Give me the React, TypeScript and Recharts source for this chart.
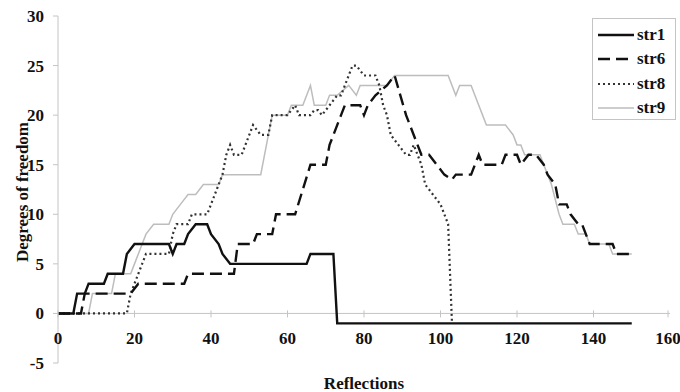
import { Line, LineChart, ReferenceLine, XAxis, YAxis } from 'recharts';

// [reflections, degrees of freedom] vertices
const str1Points: Array<[number, number]> = [
  [0, 0], [4, 0], [5, 2], [7, 2], [8, 3], [12, 3], [13, 4], [17, 4], [18, 6], [20, 7],
  [29, 7], [30, 6], [31, 7], [33, 7], [34, 8], [36, 9], [39, 9], [40, 8], [42, 7],
  [43, 6], [45, 5], [65, 5], [66, 6], [72, 6], [73, -1], [150, -1],
];

const str6Points: Array<[number, number]> = [
  [0, 0], [6, 0], [7, 2], [19, 2], [21, 3], [33, 3], [34, 4], [46, 4], [47, 7], [51, 7],
  [52, 8], [56, 8], [57, 10], [62, 10], [66, 15], [70, 15], [71, 17], [74, 20], [75, 21],
  [79, 21], [80, 20], [81, 21], [83, 22], [86, 23], [88, 24], [91, 20], [93, 18], [95, 16],
  [97, 16], [99, 15], [101, 14], [103, 13.5], [104, 14], [108, 14], [110, 16], [111, 15],
  [116, 15], [117, 16], [120, 16], [121, 15], [123, 16], [125, 16], [127, 15], [128, 14],
  [130, 13], [131, 11], [133, 11], [134, 10], [136, 9], [137, 9], [138, 8], [139, 7],
  [145, 7], [146, 6], [150, 6],
];

const str8Points: Array<[number, number]> = [
  [0, 0], [18, 0], [19, 2], [21, 4], [23, 6], [29, 6], [30, 8], [31, 9], [34, 9], [35, 10],
  [39, 10], [41, 12], [43, 14], [44, 16], [45, 17], [46, 16], [48, 16], [50, 18], [51, 19],
  [53, 18], [55, 18], [56, 20], [60, 20], [62, 21], [63, 20], [66, 20], [67, 20.5], [68, 20.5],
  [69, 20], [71, 21], [73, 22], [74, 22], [75, 23], [77, 25], [78, 25], [80, 24], [83, 24],
  [84, 23], [85, 21], [86, 20], [87, 18], [89, 17], [91, 16], [92, 16], [93, 17], [95, 15],
  [96, 13], [98, 12], [100, 11], [101, 10], [102, 9], [103, -1],
];

const str9Points: Array<[number, number]> = [
  [0, 0], [8, 0], [9, 2], [14, 2], [15, 4], [19, 4], [20, 5], [21, 6], [23, 8], [25, 9],
  [29, 9], [30, 10], [32, 11], [34, 12], [36, 12], [38, 13], [42, 13], [43, 14], [53, 14],
  [55, 18], [56, 20], [60, 20], [61, 21], [64, 21], [66, 23], [67, 21], [70, 21], [71, 22],
  [73, 22], [76, 23], [78, 22], [79, 23], [86, 23], [88, 24], [102, 24], [104, 22], [105, 23],
  [108, 23], [110, 21], [111, 20], [112, 19], [117, 19], [119, 18], [120, 17], [121, 17],
  [122, 16], [126, 16], [127, 15], [129, 13], [131, 10], [132, 9], [135, 9], [136, 8],
  [138, 8], [139, 7], [144, 7], [145, 6], [150, 6],
];

const xTicks = [0, 20, 40, 60, 80, 100, 120, 140, 160];
const yTicks = [-5, 0, 5, 10, 15, 20, 25, 30];

const toRows = (pts: Array<[number, number]>) => pts.map(([x, y]) => ({ x, y }));

const FONT = "'Liberation Serif', 'Times New Roman', serif";
const FONT_SIZE = 17;
const AXIS_GRAY = '#c4c4c4';

const W = 680;
const H = 392;
const X_AXIS_H = 29;
const MARGIN = { top: 16, right: 10, left: 0, bottom: 0 };
const Y_MIN = -5;
const Y_MAX = 30;
const PLOT_TOP = MARGIN.top;
const PLOT_H = H - MARGIN.top - MARGIN.bottom - X_AXIS_H;
const ZERO_Y = PLOT_TOP + ((Y_MAX - 0) / (Y_MAX - Y_MIN)) * PLOT_H;

const series = [
  { name: 'str1', pts: str1Points, stroke: '#111', width: 2.4, dash: undefined as string | undefined },
  { name: 'str6', pts: str6Points, stroke: '#111', width: 2.4, dash: '12 6' },
  { name: 'str8', pts: str8Points, stroke: '#333', width: 2.2, dash: '2 3' },
  { name: 'str9', pts: str9Points, stroke: '#bdbdbd', width: 1.5, dash: undefined },
];

function XTick(props: any) {
  const { x, payload } = props;
  return (
    <g>
      <line x1={x} x2={x} y1={ZERO_Y - 3} y2={ZERO_Y + 4} stroke={AXIS_GRAY} />
      <text x={x} y={ZERO_Y + 31} textAnchor="middle" fontFamily={FONT} fontWeight="bold" fontSize={FONT_SIZE} fill="#111">
        {payload.value}
      </text>
    </g>
  );
}

function LegendBox() {
  return (
    <div
      style={{
        position: 'absolute',
        left: 592,
        top: 18,
        width: 84,
        height: 102,
        border: `1px solid ${AXIS_GRAY}`,
        background: '#fff',
        boxSizing: 'border-box',
        paddingTop: 4,
      }}
    >
      {series.map((s) => (
        <div key={s.name} style={{ display: 'flex', alignItems: 'center', height: 24.3 }}>
          <svg width={40} height={10} style={{ marginLeft: 4 }}>
            <line x1={1} x2={37} y1={5} y2={5} stroke={s.stroke} strokeWidth={s.width} strokeDasharray={s.dash} />
          </svg>
          <span style={{ fontFamily: FONT, fontWeight: 'bold', fontSize: FONT_SIZE, color: '#111' }}>
            {s.name}
          </span>
        </div>
      ))}
    </div>
  );
}

export default function App() {
  return (
    <div style={{ position: 'absolute', left: 0, top: 0, width: W, height: H, background: '#fff' }}>
      <LineChart width={W} height={H} margin={MARGIN}>
        <XAxis
          dataKey="x"
          type="number"
          domain={[0, 160]}
          ticks={xTicks}
          axisLine={false}
          tickLine={false}
          height={X_AXIS_H}
          tick={<XTick />}
          allowDuplicatedCategory={false}
          label={{
            value: 'Reflections',
            content: () => (
              <text x={364} y={389} textAnchor="middle" fontFamily={FONT} fontWeight="bold" fontSize={FONT_SIZE} fill="#111">
                Reflections
              </text>
            ),
          }}
        />
        <YAxis
          type="number"
          domain={[Y_MIN, Y_MAX]}
          ticks={yTicks}
          width={58}
          stroke={AXIS_GRAY}
          tickSize={5}
          tickMargin={9}
          tick={{ fontFamily: FONT, fontWeight: 'bold', fontSize: FONT_SIZE, fill: '#111' }}
          label={{
            value: 'Degrees of freedom',
            content: () => (
              <text
                x={22}
                y={192}
                transform="rotate(-90, 22, 192)"
                textAnchor="middle"
                dominantBaseline="central"
                fontFamily={FONT}
                fontWeight="bold"
                fontSize={FONT_SIZE}
                fill="#111"
              >
                Degrees of freedom
              </text>
            ),
          }}
        />
        <ReferenceLine y={0} stroke={AXIS_GRAY} />
        {series
          .slice()
          .reverse()
          .map((s) => (
            <Line
              key={s.name}
              name={s.name}
              data={toRows(s.pts)}
              dataKey="y"
              type="linear"
              stroke={s.stroke}
              strokeWidth={s.width}
              strokeDasharray={s.dash}
              dot={false}
              activeDot={false}
              isAnimationActive={false}
            />
          ))}
      </LineChart>
      <LegendBox />
    </div>
  );
}
